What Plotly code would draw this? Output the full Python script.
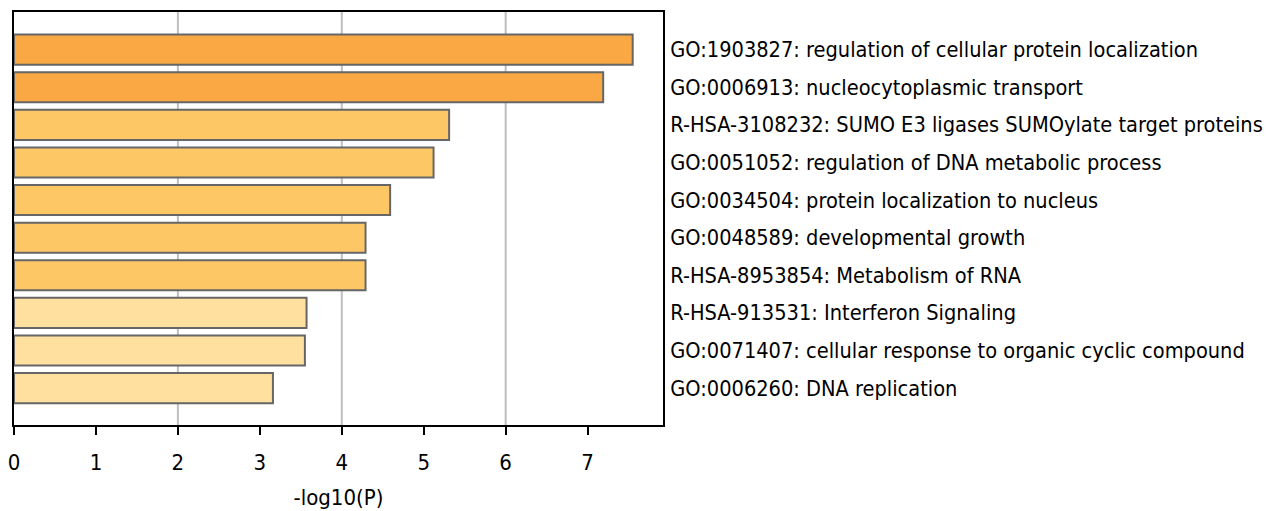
import plotly.graph_objects as go

terms = [
    "GO:1903827: regulation of cellular protein localization",
    "GO:0006913: nucleocytoplasmic transport",
    "R-HSA-3108232: SUMO E3 ligases SUMOylate target proteins",
    "GO:0051052: regulation of DNA metabolic process",
    "GO:0034504: protein localization to nucleus",
    "GO:0048589: developmental growth",
    "R-HSA-8953854: Metabolism of RNA",
    "R-HSA-913531: Interferon Signaling",
    "GO:0071407: cellular response to organic cyclic compound",
    "GO:0006260: DNA replication",
]
neglog10p = [7.55, 7.19, 5.31, 5.12, 4.59, 4.29, 4.29, 3.57, 3.55, 3.16]
colors = ["#F9A843", "#F9A843", "#FDC766", "#FDC766", "#FDC766", "#FDC766", "#FDC766",
          "#FFE09E", "#FFE09E", "#FFE09E"]
xticks = [0, 1, 2, 3, 4, 5, 6, 7]
gridvals = [2, 4, 6]

FONT = "DejaVu Sans Condensed, DejaVu Sans, sans-serif"

fig = go.Figure()
fig.add_trace(go.Bar(
    x=neglog10p, y=list(range(len(terms))), orientation="h",
    width=0.8,
    marker=dict(color=colors, line=dict(color="#666666", width=2)),
    hoverinfo="x",
))

for g in gridvals:
    fig.add_shape(type="line", xref="x", yref="paper", x0=g, x1=g, y0=0, y1=1,
                  line=dict(color="#BEBEBE", width=2), layer="below")

# page body has an 8px margin, so the figure is offset by 8px
fig.update_layout(
    width=1270, height=503,
    margin=dict(l=6, r=615, t=4, b=86),
    plot_bgcolor="white", paper_bgcolor="white",
    showlegend=False,
    font=dict(family=FONT, color="black", size=22),
)
fig.update_xaxes(
    range=[0, 7.92], tickvals=xticks, ticktext=[str(t) for t in xticks],
    showgrid=False, zeroline=False, automargin=False,
    showline=True, linecolor="black", linewidth=2, mirror=True,
    ticks="outside", ticklen=8, tickwidth=2, tickcolor="black",
    tickfont=dict(size=22, family=FONT), ticklabelstandoff=9,
    ticklabeloverflow="allow",
    title=dict(text="-log10(P)", font=dict(size=22, family=FONT), standoff=15),
)
fig.update_yaxes(
    range=[9.98, -1.0], tickvals=list(range(len(terms))), ticktext=terms,
    side="right", showgrid=False, zeroline=False, automargin=False,
    showline=True, linecolor="black", linewidth=2, mirror=True,
    ticks="", tickfont=dict(size=21.6, family=FONT), ticklabelstandoff=1,
    ticklabeloverflow="allow",
)

fig.write_html("out.html")
